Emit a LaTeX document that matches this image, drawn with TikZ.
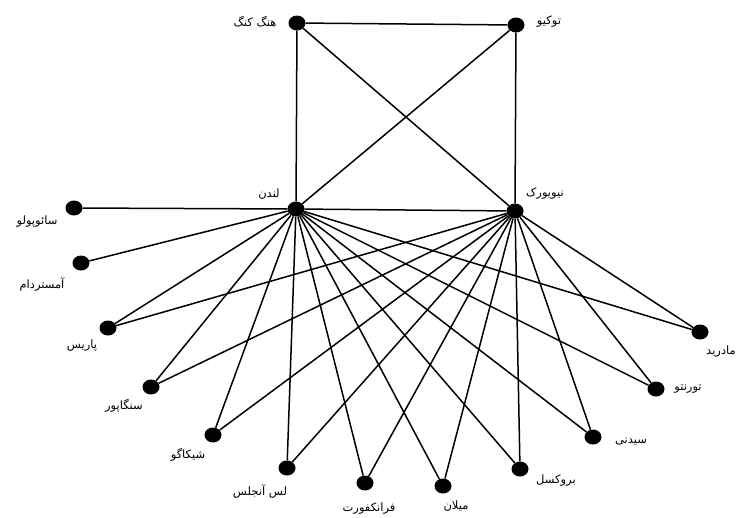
\documentclass[tikz,border=0pt]{standalone}
\usepackage{fontspec}
\newfontfamily\arabicfont[Script=Arabic]{DejaVu Sans}
\TeXXeTstate=1
\usetikzlibrary{shapes.geometric}
\newcommand\fa[1]{\beginR #1\endR}
\begin{document}
\begin{tikzpicture}[x=1pt,y=-1pt,
  city/.style={ellipse, fill=black, minimum width=17pt, minimum height=15pt, inner sep=0pt},
  lbl/.style={font=\arabicfont\fontsize{11.5}{13}\selectfont, inner sep=0pt},
  link/.style={line width=1.5pt}]
\path[use as bounding box, fill=white] (0,0) rectangle (739,517);
% cities
\node[city] (hk) at (297,23) {};
\node[city] (tk) at (516,25) {};
\node[city] (ld) at (296,209) {};
\node[city] (ny) at (515,211) {};
\node[city] (sp) at (74,208) {};
\node[city] (am) at (81,263) {};
\node[city] (pa) at (108,328) {};
\node[city] (sg) at (151,387) {};
\node[city] (ch) at (213,435) {};
\node[city] (la) at (287,468) {};
\node[city] (fr) at (365,483) {};
\node[city] (mi) at (443,486) {};
\node[city] (br) at (520,469) {};
\node[city] (sy) at (593,437) {};
\node[city] (to) at (656,389) {};
\node[city] (md) at (700,332) {};
% labels
\node[lbl] (lhk) at (255,22) {\fa{هنگ کنگ}};
\node[lbl] (ltk) at (549,22) {\fa{توکیو}};
\node[lbl] (lld) at (269,194) {\fa{لندن}};
\node[lbl] (lny) at (545,194) {\fa{نیویورک}};
\node[lbl] (lsp) at (37,222) {\fa{سائوپولو}};
\node[lbl] (lam) at (42,284) {\fa{آمستردام}};
\node[lbl] (lpa) at (82,346) {\fa{پاریس}};
\node[lbl] (lsg) at (124,406) {\fa{سنگاپور}};
\node[lbl] (lch) at (188,455) {\fa{شیکاگو}};
\node[lbl] (lla) at (260,491) {\fa{لس آنجلس}};
\node[lbl] (lfr) at (369,509) {\fa{فرانکفورت}};
\node[lbl] (lmi) at (456,506) {\fa{میلان}};
\node[lbl] (lbr) at (556,481) {\fa{بروکسل}};
\node[lbl] (lsy) at (631,442) {\fa{سیدنی}};
\node[lbl] (lto) at (688,389) {\fa{تورنتو}};
\node[lbl] (lmd) at (721,352) {\fa{مادرید}};
% connectors
\draw[link] (hk) -- (tk);
\draw[link] (hk) -- (ld);
\draw[link] (hk) -- (ny);
\draw[link] (tk) -- (ld);
\draw[link] (tk) -- (ny);
\draw[link] (ld) -- (ny);
\draw[link] (ld) -- (sp);
\draw[link] (ld) -- (am);
\foreach \c in {pa,sg,ch,la,fr,mi,br,sy,to,md}{
  \draw[link] (ld) -- (\c);
  \draw[link] (ny) -- (\c);
}
\end{tikzpicture}
\end{document}
